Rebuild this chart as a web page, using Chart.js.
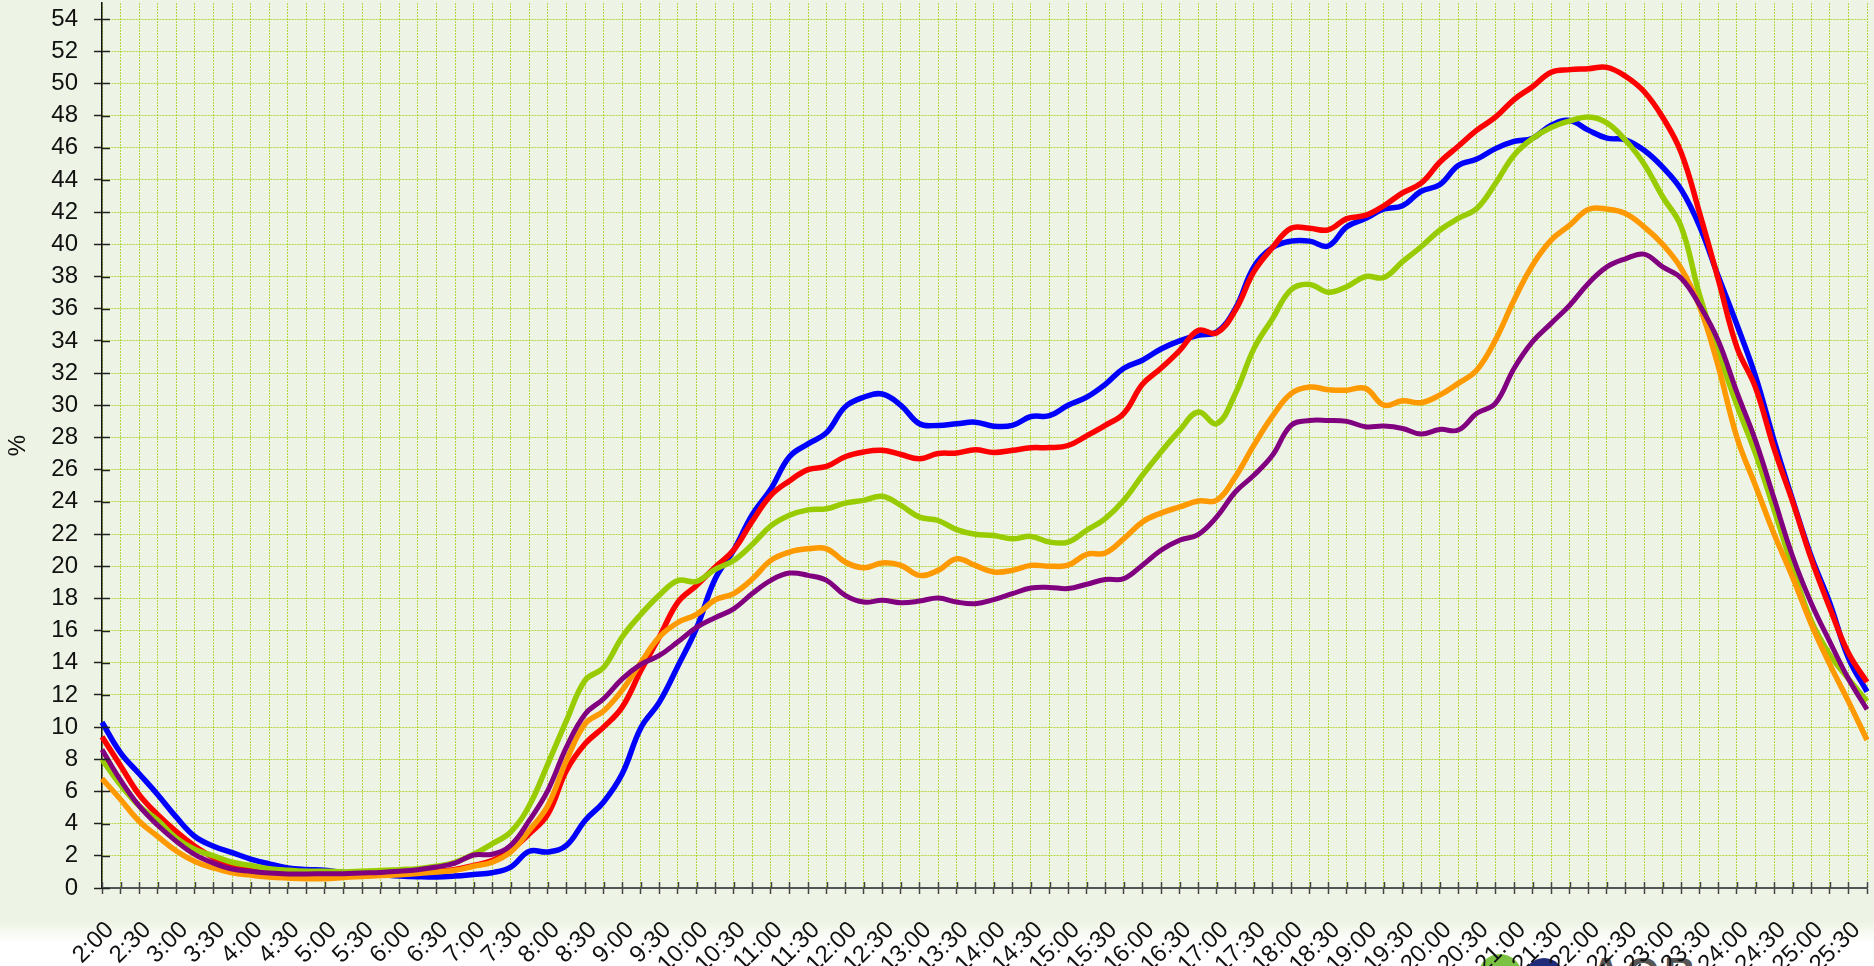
<!DOCTYPE html>
<html>
<head>
<meta charset="utf-8">
<script src="https://cdn.jsdelivr.net/npm/chart.js@4.4.1/dist/chart.umd.min.js"></script>
<style>
  html, body { margin: 0; padding: 0; }
  body {
    width: 1874px; height: 966px; overflow: hidden; position: relative;
    background: linear-gradient(to bottom, #EEF4E5 0px, #EEF4E5 922px, #FFFFFF 942px, #FFFFFF 966px);
  }
  #wrap { position: absolute; left: 0; top: 0; width: 1874px; height: 966px; z-index: 2; }
  #logo { position: absolute; left: 1478px; top: 952px; height: 40px; width: 300px; z-index: 1; }
  #logo .g { position: absolute; left: 0; top: 2px; width: 44px; height: 44px; border-radius: 50%; background: #7CC242; }
  #logo .b { position: absolute; left: 46px; top: 6px; width: 40px; height: 40px; border-radius: 50%; background: #1F2A78; }
  #logo .t { position: absolute; left: 112px; top: 0px; font: bold 44px 'Liberation Sans', Arial, sans-serif; color: #555; letter-spacing: 4px; line-height: 44px; }
</style>
</head>
<body>
<div id="logo"><div class="g"></div><div class="b"></div><div class="t">AGB</div></div>
<div id="wrap"><canvas id="c" width="1874" height="966"></canvas></div>
<script>
const timeLabels = [
  '2:00','2:15','2:30','2:45','3:00','3:15','3:30','3:45','4:00','4:15','4:30','4:45',
  '5:00','5:15','5:30','5:45','6:00','6:15','6:30','6:45','7:00','7:15','7:30','7:45',
  '8:00','8:15','8:30','8:45','9:00','9:15','9:30','9:45','10:00','10:15','10:30','10:45',
  '11:00','11:15','11:30','11:45','12:00','12:15','12:30','12:45','13:00','13:15','13:30','13:45',
  '14:00','14:15','14:30','14:45','15:00','15:15','15:30','15:45','16:00','16:15','16:30','16:45',
  '17:00','17:15','17:30','17:45','18:00','18:15','18:30','18:45','19:00','19:15','19:30','19:45',
  '20:00','20:15','20:30','20:45','21:00','21:15','21:30','21:45','22:00','22:15','22:30','22:45',
  '23:00','23:15','23:30','23:45','24:00','24:15','24:30','24:45','25:00','25:15','25:30','25:45'
];

const blueSeries = [
  10.3,8.4,7.1,5.8,4.4,3.2,2.6,2.2,1.8,1.5,
  1.25,1.15,1.1,0.97,0.9,0.83,0.75,0.7,0.68,0.74,
  0.84,0.95,1.3,2.28,2.24,2.65,4.2,5.35,7.1,9.95,
  11.55,13.8,16.15,19.2,21.0,23.2,24.8,26.8,27.6,28.3,
  29.9,30.5,30.7,30.0,28.85,28.75,28.85,28.95,28.7,28.75,
  29.3,29.35,30.0,30.5,31.3,32.3,32.8,33.5,34.0,34.35,
  34.55,36.0,38.6,39.8,40.2,40.2,39.9,41.1,41.6,42.2,
  42.4,43.3,43.7,44.9,45.3,45.95,46.4,46.6,47.4,47.7,
  47.1,46.6,46.5,45.85,44.8,43.4,41.1,38.0,35.0,31.8,
  27.8,24.1,20.6,17.7,14.3,12.2
];
const redSeries = [
  9.4,7.6,5.8,4.55,3.5,2.6,1.9,1.45,1.25,1.05,
  0.9,0.83,0.83,0.83,0.88,0.92,0.93,0.97,1.03,1.15,
  1.4,1.7,2.34,3.37,4.6,7.3,8.96,10.0,11.24,13.5,
  15.6,17.76,18.8,19.94,21.0,22.8,24.4,25.3,26.0,26.2,
  26.8,27.1,27.2,26.94,26.67,27.0,27.03,27.23,27.07,27.2,
  27.36,27.37,27.5,28.1,28.75,29.5,31.3,32.3,33.4,34.65,
  34.5,35.9,38.3,39.8,41.0,41.0,40.9,41.6,41.8,42.4,
  43.2,43.8,45.1,46.1,47.1,47.9,49.0,49.8,50.7,50.86,
  50.92,51.0,50.45,49.5,47.9,45.7,41.9,37.8,33.6,31.1,
  27.3,24.0,20.45,17.4,14.6,12.8
];
const greenSeries = [
  8.0,6.4,5.1,4.2,3.1,2.4,2.0,1.6,1.4,1.2,
  1.1,1.04,1.04,1.0,1.04,1.08,1.14,1.2,1.35,1.6,
  2.1,2.75,3.48,5.13,7.72,10.4,12.9,13.7,15.6,17.0,
  18.2,19.1,19.05,19.8,20.35,21.35,22.5,23.16,23.5,23.57,
  23.92,24.09,24.34,23.78,23.05,22.84,22.27,21.98,21.91,21.7,
  21.85,21.5,21.5,22.23,22.96,24.1,25.65,27.1,28.44,29.58,
  28.86,30.72,33.52,35.38,37.18,37.51,37.03,37.37,38.0,37.94,
  38.92,39.85,40.88,41.61,42.23,43.78,45.54,46.58,47.26,47.67,
  47.92,47.55,46.47,45.0,42.96,41.1,36.8,33.3,30.0,27.0,
  23.5,19.9,16.6,14.5,13.0,11.6
];
const orangeSeries = [
  6.8,5.5,4.15,3.2,2.3,1.65,1.25,0.95,0.8,0.68,
  0.62,0.58,0.58,0.65,0.72,0.77,0.83,0.9,1.0,1.1,
  1.35,1.6,2.24,3.58,5.13,7.93,10.2,11.0,12.3,14.0,
  15.6,16.5,17.0,17.9,18.3,19.2,20.36,20.88,21.08,21.08,
  20.26,19.9,20.2,20.05,19.43,19.74,20.46,20.05,19.64,19.74,
  20.05,20.0,20.06,20.74,20.82,21.71,22.75,23.3,23.68,24.05,
  24.1,25.55,27.52,29.32,30.72,31.13,30.97,30.94,31.05,30.01,
  30.28,30.16,30.63,31.36,32.19,34.05,36.53,38.71,40.26,41.19,
  42.17,42.19,41.92,41.09,40.0,38.5,36.1,32.4,28.0,25.0,
  22.0,19.3,16.4,13.9,11.6,9.2
];
const purpleSeries = [
  8.6,6.7,5.1,3.9,2.9,2.07,1.55,1.18,1.04,0.93,
  0.87,0.87,0.89,0.89,0.93,0.97,1.04,1.14,1.3,1.55,
  2.05,2.1,2.65,4.2,6.07,8.76,10.8,11.76,13.0,13.9,
  14.45,15.3,16.2,16.8,17.35,18.3,19.12,19.57,19.43,19.12,
  18.19,17.77,17.88,17.73,17.83,18.02,17.77,17.67,17.92,18.29,
  18.64,18.68,18.61,18.88,19.17,19.23,20.06,20.99,21.61,21.96,
  23.06,24.61,25.65,26.89,28.75,29.06,29.06,29.0,28.67,28.71,
  28.56,28.21,28.5,28.46,29.5,30.12,32.29,33.95,35.09,36.22,
  37.57,38.6,39.1,39.39,38.6,37.9,36.2,34.0,30.8,27.8,
  24.2,20.6,17.7,15.3,13.0,11.1
];

const yAxisTitle = '%';

const FONT = "'Liberation Sans', Arial, sans-serif";
const GRID = 'rgba(153,204,0,0.7)';

const crossTicks = {
  id: 'crossTicks',
  afterDraw(chart) {
    const ctx = chart.ctx;
    const ys = chart.scales.y, xs = chart.scales.x;
    const area = chart.chartArea;
    ctx.save();
    ctx.strokeStyle = '#222';
    ctx.lineWidth = 1.5;
    ys.ticks.forEach((t, i) => {
      const p = Math.round(ys.getPixelForTick(i)) + 0.5;
      ctx.beginPath(); ctx.moveTo(area.left, p); ctx.lineTo(area.left + 8, p); ctx.stroke();
    });
    ctx.strokeStyle = '#444';
    xs.ticks.forEach((t, i) => {
      const p = Math.round(xs.getPixelForTick(i)) + 0.5;
      ctx.beginPath(); ctx.moveTo(p, area.bottom); ctx.lineTo(p, area.bottom - 6); ctx.stroke();
    });
    ctx.restore();
  }
};

const mk = (data, color, order, w) => ({
  data, borderColor: color, backgroundColor: color, borderWidth: w,
  pointRadius: 0, pointHoverRadius: 0, tension: 0.4, fill: false, order
});

new Chart(document.getElementById('c'), {
  type: 'line',
  data: {
    labels: timeLabels,
    datasets: [
      mk(blueSeries, '#0000FF', 5, 5.5),
      mk(redSeries, '#FF0000', 4, 5.5),
      mk(greenSeries, '#99CC00', 3, 5.5),
      mk(orangeSeries, '#FF9900', 2, 5.5),
      mk(purpleSeries, '#800080', 1, 5)
    ]
  },
  options: {
    responsive: false,
    animation: false,
    events: [],
    layout: { padding: { top: 3, right: 7, left: 0, bottom: 0 } },
    plugins: { legend: { display: false }, tooltip: { enabled: false }, title: { display: false } },
    scales: {
      x: {
        type: 'category',
        offset: false,
        afterFit(scale) {
          scale.height = 78;
          scale.paddingLeft = 0; scale.paddingRight = 0;
          scale.paddingTop = 0; scale.paddingBottom = 0;
        },
        grid: {
          color: GRID,
          lineWidth: 1,
          drawTicks: true,
          tickLength: 6,
          tickColor: '#444',
          tickWidth: 1.5
        },
        border: { display: true, color: '#555', width: 2, dash: [2, 1] },
        ticks: {
          autoSkip: false,
          minRotation: 45,
          maxRotation: 45,
          padding: 22,
          labelOffset: 8,
          color: '#111',
          font: { family: FONT, size: 24 },
          callback(val, idx) { return idx % 2 === 0 ? timeLabels[idx] : ''; }
        }
      },
      y: {
        min: 0,
        max: 55,
        afterFit(scale) {
          scale.width = 102;
          scale.paddingLeft = 0; scale.paddingRight = 0;
          scale.paddingTop = 0; scale.paddingBottom = 0;
        },
        grid: {
          color: GRID,
          lineWidth: 1,
          drawTicks: true,
          tickLength: 8,
          tickColor: '#222',
          tickWidth: 1.5
        },
        border: { display: true, color: '#111', width: 1.5, dash: [2, 1] },
        ticks: {
          stepSize: 2,
          autoSkip: false,
          includeBounds: false,
          padding: 16,
          color: '#111',
          font: { family: FONT, size: 24 }
        },
        title: {
          display: true,
          text: yAxisTitle,
          color: '#111',
          font: { family: FONT, size: 24 },
          padding: { top: 4, bottom: 0 }
        }
      }
    }
  },
  plugins: [crossTicks]
});
</script>
</body>
</html>
